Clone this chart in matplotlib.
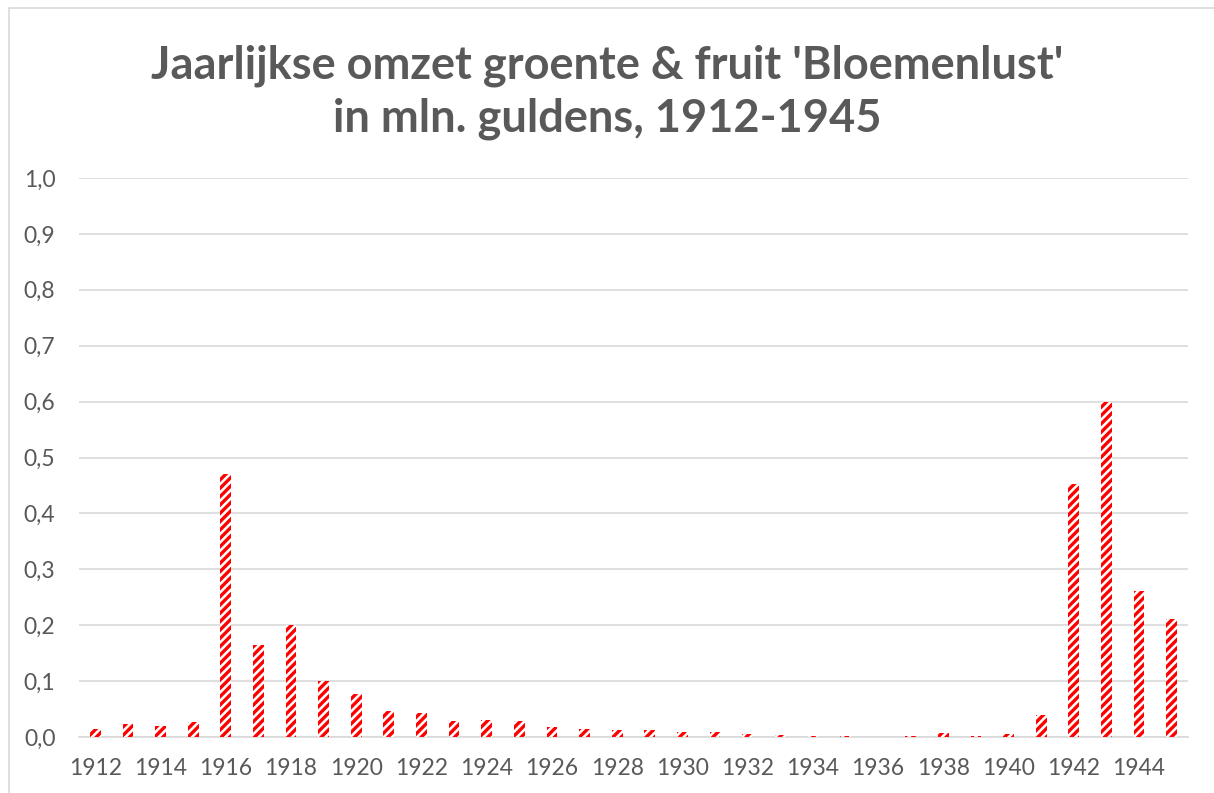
import matplotlib
matplotlib.use('Agg')
import matplotlib.pyplot as plt
from matplotlib.patches import Rectangle

years = list(range(1912, 1946))
omzet = [0.014, 0.023, 0.020, 0.027, 0.470, 0.165, 0.200, 0.100, 0.077, 0.046,
         0.043, 0.029, 0.030, 0.029, 0.018, 0.014, 0.013, 0.013, 0.009, 0.009,
         0.005, 0.003, 0.002, 0.002, 0.000, 0.002, 0.007, 0.002, 0.006, 0.039,
         0.453, 0.600, 0.261, 0.211]
y_ticks = [0.0, 0.1, 0.2, 0.3, 0.4, 0.5, 0.6, 0.7, 0.8, 0.9, 1.0]
title = "Jaarlijkse omzet groente & fruit 'Bloemenlust'\nin mln. guldens, 1912-1945"

plt.rcParams['font.family'] = ['Lato', 'DejaVu Sans']
plt.rcParams['hatch.linewidth'] = 2.4
grey = '#595959'

W, H = 1214, 793
fig = plt.figure(figsize=(W / 100, H / 100), dpi=100)
ax = fig.add_axes([79 / W, 1 - 737 / H, (1188 - 79) / W, (737 - 178) / H])

x = list(range(len(years)))
ax.bar(x, omzet, width=0.33, color='white', edgecolor='red', linewidth=0,
       hatch='////', zorder=3)

ax.set_xlim(-0.5, len(years) - 0.5)
ax.set_ylim(0, 1.0)
ax.set_yticks(y_ticks)
ax.set_yticklabels([f'{v:.1f}'.replace('.', ',') for v in y_ticks])
ax.set_xticks(x[::2])
ax.set_xticklabels([str(y) for y in years[::2]])
ax.tick_params(axis='both', length=0, labelsize=16.5, colors=grey)
ax.tick_params(axis='y', pad=17)
ax.tick_params(axis='x', pad=15)

ax.grid(axis='y', color='#d9d9d9', linewidth=1.2, zorder=0)
for side in ['top', 'right', 'left']:
    ax.spines[side].set_visible(False)
ax.spines['bottom'].set_color('#d9d9d9')
ax.spines['bottom'].set_linewidth(1.2)

fig.text(0.5, 1 - 92 / H, title, ha='center', va='center', fontsize=32.5,
         fontweight='bold', color=grey, linespacing=1.3)

# chart border (cropped on the right and bottom)
fig.patches.append(Rectangle((9 / W, -0.05), 1.1, 1.05 - 8 / H,
                             transform=fig.transFigure, fill=False,
                             edgecolor='#d9d9d9', linewidth=1.2))

fig.savefig('out.png', dpi=100)
